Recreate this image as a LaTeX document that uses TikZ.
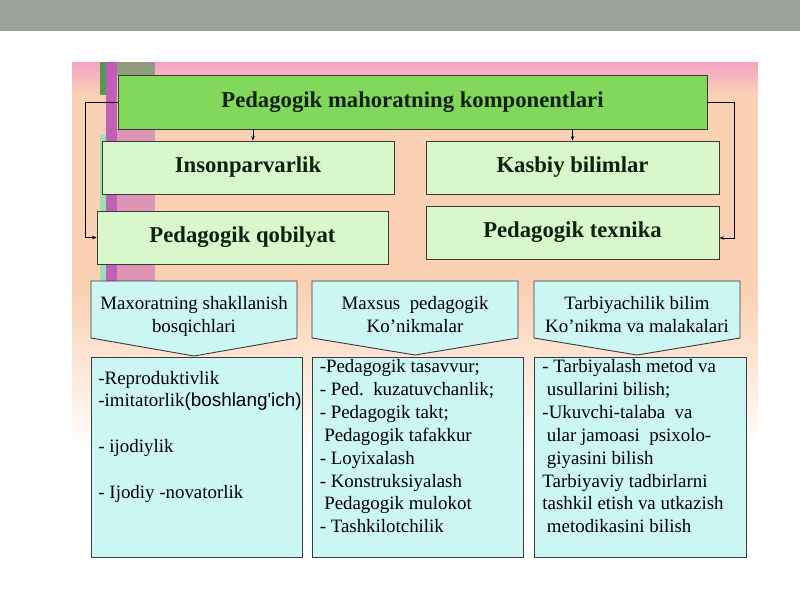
\documentclass[tikz,border=0pt]{standalone}
\usepackage{fontspec}
\setmainfont{Liberation Serif}
\newfontfamily\arialfont{Liberation Sans}
\usetikzlibrary{arrows.meta,calc}
\definecolor{barGray}{HTML}{9AA09A}
\definecolor{bgPink}{HTML}{F5A3C6}
\definecolor{bgPeach}{HTML}{FAD1B3}
\definecolor{titleGreen}{HTML}{82D85A}
\definecolor{paleGreen}{HTML}{D8F7CA}
\definecolor{paleCyan}{HTML}{CCF6F4}
\definecolor{edgeGray}{HTML}{3A3A3A}
\definecolor{decoMagenta}{HTML}{B84DB8}
\definecolor{decoGreen}{HTML}{3F8F45}
\definecolor{decoMint}{HTML}{8FE3B5}
\definecolor{textDark}{HTML}{102010}
\newcommand{\ind}{\hspace*{4.5pt}}
\begin{document}
\begin{tikzpicture}[x=1pt,y=-1pt,
  boxline/.style={draw=edgeGray,line width=0.9pt},
  topbox/.style={boxline,fill=paleGreen,inner sep=0pt,text=textDark,font=\fontsize{22.7}{26}\selectfont\bfseries},
  titlebox/.style={topbox,fill=titleGreen},
  hdrshape/.style={boxline,fill=paleCyan},
  hdrtext/.style={inner sep=0pt,align=center,anchor=north,font=\fontsize{18.9}{23.4}\selectfont},
  listbox/.style={boxline,fill=paleCyan,inner sep=0pt},
  listtext/.style={inner sep=0pt,align=left,anchor=north west,font=\fontsize{18.9}{22.86}\selectfont},
  arr/.style={draw=black,line width=0.8pt,-{Stealth[length=4.5pt,width=3.5pt]}}]
\useasboundingbox (0,0) rectangle (800,600);
\fill[white] (0,0) rectangle (800,600);
\fill[barGray] (0,0) rectangle (800,31);
% slide background
\fill[bgPeach] (72,62) rectangle (758,290);
\shade[top color=bgPink,bottom color=bgPeach] (72,62) rectangle (758,95);
\shade[top color=bgPeach,bottom color=white] (72,290) rectangle (758,450);
% left decoration
\fill[decoGreen,opacity=.85] (100,62) rectangle (106,95);
\fill[decoMint,opacity=.9] (100,135) rectangle (106,282);
\fill[decoMagenta,opacity=.85] (106,62) rectangle (117,282);
\fill[decoGreen,opacity=.55] (117,62) rectangle (155,75);
\fill[decoMagenta,opacity=.45] (117,129) rectangle (155,282);
% top part
\node[titlebox,minimum width=589pt,minimum height=54pt] (title) at (412.5,102) {Pedagogik mahoratning komponentlari};
\node[topbox,minimum width=292pt,minimum height=53pt] (ins) at (248,167.5) {Insonparvarlik};
\node[topbox,minimum width=291pt,minimum height=53pt] (qob) at (242.5,237.5) {Pedagogik qobilyat};
\node[topbox,minimum width=293pt,minimum height=53pt] (kas) at (572.5,167.5) {Kasbiy bilimlar};
\node[topbox,minimum width=293pt,minimum height=53pt] (tex) at (572.5,232.5) {Pedagogik texnika};
\draw[arr] ([xshift=5pt]ins.north |- title.south) -- ([xshift=5pt]ins.north);
\draw[arr] (kas.north |- title.south) -- (kas.north);
\draw[arr] (title.west) -- ++(-32,0) |- (qob.west);
\draw[arr] (title.east) -- ++(27,0) |- ([yshift=-5.5pt]tex.east);
% header shapes
\path[hdrshape] (91,281) -- (297,281) -- (297,338) -- (194,356) -- (91,338) -- cycle;
\path[hdrshape] (312,281) -- (518,281) -- (518,338) -- (415,355) -- (312,338) -- cycle;
\path[hdrshape] (534,281) -- (740,281) -- (740,338) -- (637,355) -- (534,338) -- cycle;
\node[hdrtext] (h1) at (194,292.5) {\strut Maxoratning shakllanish\\bosqichlari};
\node[hdrtext] (h2) at (415,292.5) {\strut Maxsus\ \ pedagogik\\Ko’nikmalar};
\node[hdrtext] (h3) at (637,292.5) {\strut Tarbiyachilik bilim\\Ko’nikma va malakalari};
% list boxes
\node[listbox,minimum width=211pt,minimum height=200pt] (c1) at (196.5,457) {};
\node[listbox,minimum width=211pt,minimum height=200pt] (c2) at (417.5,457) {};
\node[listbox,minimum width=212pt,minimum height=200pt] (c3) at (640,457) {};
\node[listtext] (t1) at ([xshift=7.7pt,yshift=-11.3pt]c1.north west) {\strut -Reproduktivlik\\-imitatorlik{\arialfont(boshlang\textquotesingle ich)}\\\mbox{}\\- ijodiylik\\\mbox{}\\- Ijodiy -novatorlik};
\node[listtext] (t2) at ([xshift=8pt,yshift=0pt]c2.north west) {\strut -Pedagogik tasavvur;\\- Ped.\ \ kuzatuvchanlik;\\- Pedagogik takt;\\\ind Pedagogik tafakkur\\- Loyixalash\\- Konstruksiyalash\\\ind Pedagogik mulokot\\- Tashkilotchilik};
\node[listtext] (t3) at ([xshift=8.7pt,yshift=0pt]c3.north west) {\strut - Tarbiyalash metod va\\\ind usullarini bilish;\\-Ukuvchi-talaba\ \ va\\\ind ular jamoasi\ \ psixolo-\\\ind giyasini bilish\\Tarbiyaviy tadbirlarni\\tashkil etish va utkazish\\\ind metodikasini bilish};
\end{tikzpicture}
\end{document}
